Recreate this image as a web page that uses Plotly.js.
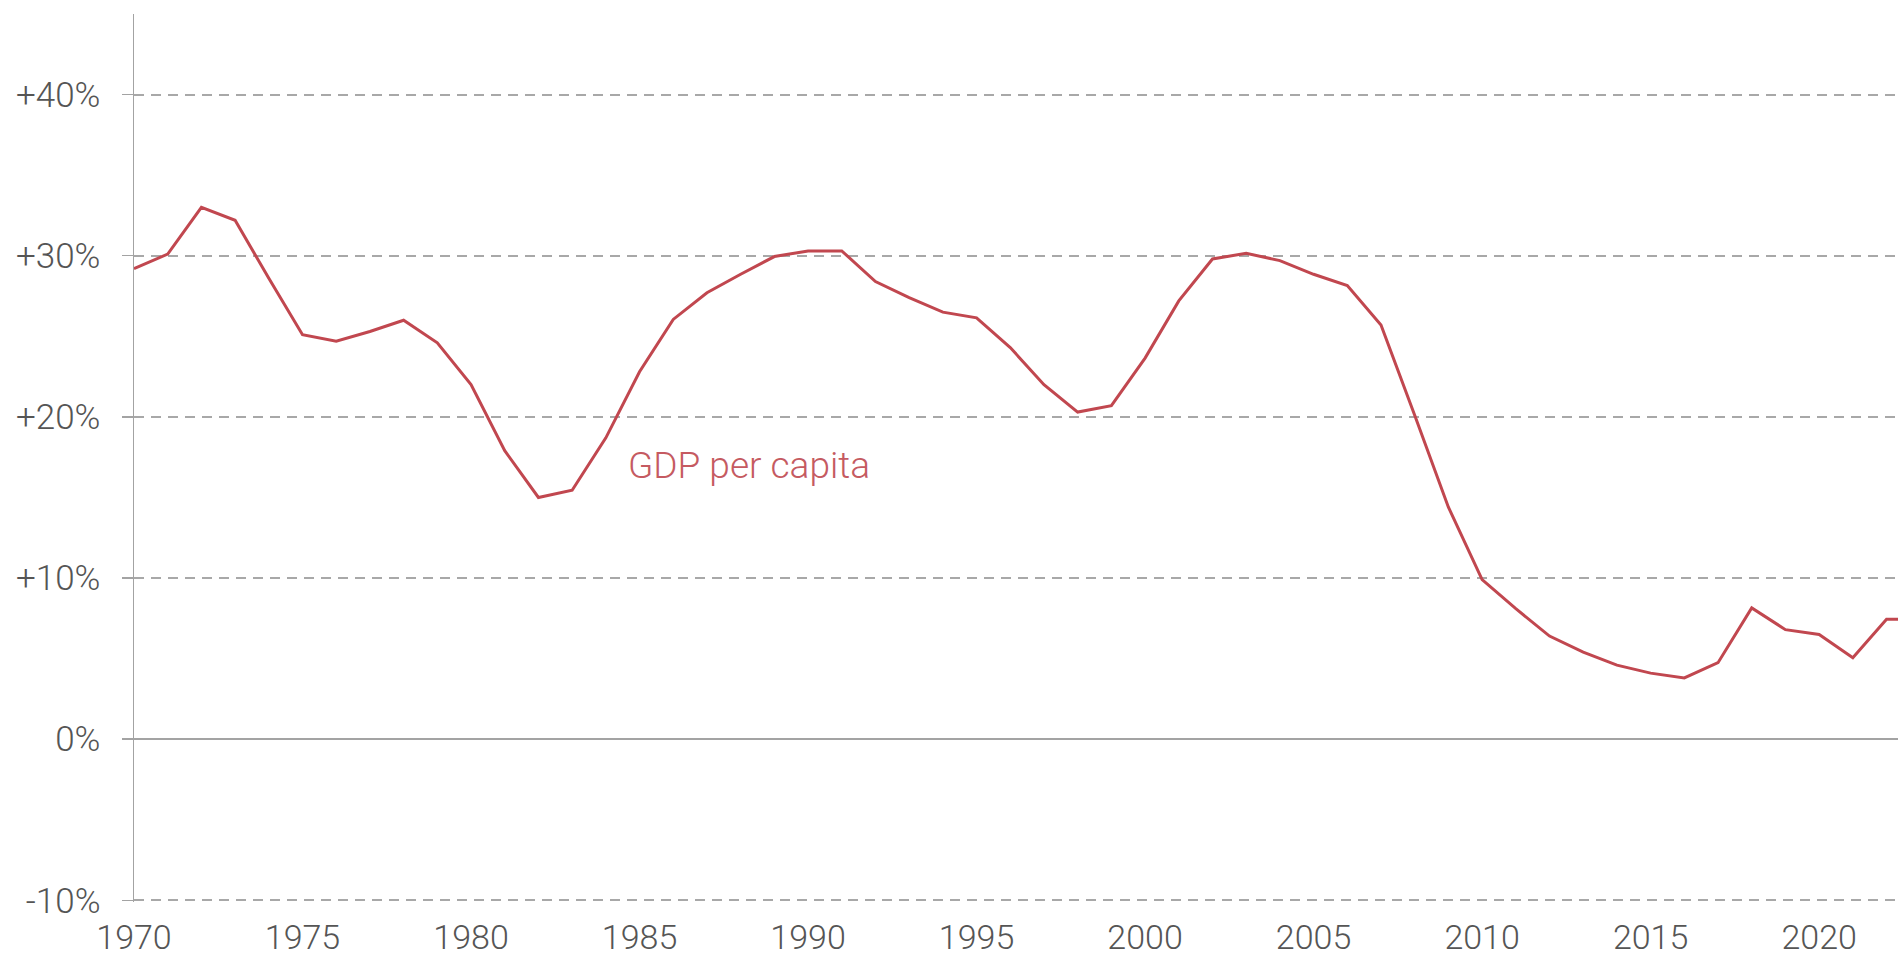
<!DOCTYPE html>
<html>
<head>
<meta charset="utf-8">
<script src="https://cdn.plot.ly/plotly-3.0.1.min.js"></script>
<style>
  html, body { margin: 0; padding: 0; background: #fff; }
  #chart { width: 1898px; height: 959px; }
</style>
</head>
<body>
<div id="chart"></div>
<script>
// ---- data ----
const years = [1970,1971,1972,1973,1974,1975,1976,1977,1978,1979,
               1980,1981,1982,1983,1984,1985,1986,1987,1988,1989,
               1990,1991,1992,1993,1994,1995,1996,1997,1998,1999,
               2000,2001,2002,2003,2004,2005,2006,2007,2008,2009,
               2010,2011,2012,2013,2014,2015,2016,2017,2018,2019,
               2020,2021,2022,2023];
const gdpPerCapita = [29.2,30.1,33.0,32.2,28.6,25.1,24.7,25.3,26.0,24.6,
                      22.0,17.9,15.0,15.45,18.7,22.8,26.05,27.7,28.85,29.95,
                      30.3,30.3,28.4,27.4,26.5,26.15,24.3,22.0,20.3,20.7,
                      23.65,27.2,29.8,30.15,29.7,28.85,28.15,25.7,20.1,14.4,
                      9.9,8.1,6.4,5.4,4.6,4.1,3.8,4.75,8.15,6.8,
                      6.5,5.05,7.45,7.45];
const seriesLabel = "GDP per capita";
const yTickVals = [-10, 0, 10, 20, 30, 40];
const yTickText = ["-10%", "0%", "+10%", "+20%", "+30%", "+40%"];
const xTickVals = [1970, 1975, 1980, 1985, 1990, 1995, 2000, 2005, 2010, 2015, 2020];
const xTickText = ["1970", "1975", "1980", "1985", "1990", "1995", "2000", "2005", "2010", "2015", "2020"];

// ---- style ----
const lineColor = "#c1474f";
const labelColor = "#c55a61";
const textColor = "#555555";
const axisColor = "#a3a3a3";
const gridColor = "#a8a8a8";
const fontFamily = "Roboto, Liberation Sans, Arial, sans-serif";
const yTickFont = { family: fontFamily, size: 35, weight: 300, color: textColor };
const xTickFont = { family: fontFamily, size: 34, weight: 300, color: textColor };

const yRange = [-10.1, 45];
const xRange = [1970, 2022.34];

const traces = [
  {
    x: years, y: gdpPerCapita, type: "scatter", mode: "lines",
    line: { color: lineColor, width: 3 },
    hoverinfo: "skip", showlegend: false, xaxis: "x", yaxis: "y"
  }
];

const layout = {
  width: 1898, height: 959,
  margin: { l: 134, r: 0, t: 14, b: 57.4 },
  paper_bgcolor: "#ffffff", plot_bgcolor: "#ffffff",
  showlegend: false,
  xaxis: {
    range: xRange, fixedrange: true,
    tickmode: "array", tickvals: xTickVals, ticktext: xTickText,
    showgrid: false, zeroline: false, showline: false, ticks: "",
    tickfont: xTickFont, ticklabelstandoff: 12
  },
  xaxis2: {
    range: xRange, overlaying: "x", anchor: "free",
    position: (0 - yRange[0]) / (yRange[1] - yRange[0]),
    side: "bottom",
    tickmode: "array", tickvals: xTickVals,
    showticklabels: false, ticks: "outside", ticklen: 12, tickwidth: 1.5, tickcolor: axisColor,
    showgrid: false, zeroline: false, showline: false
  },
  yaxis: {
    range: yRange, fixedrange: true,
    tickmode: "array", tickvals: yTickVals, ticktext: yTickText,
    showgrid: true, gridcolor: gridColor, gridwidth: 2, griddash: "10px,7px",
    zeroline: true, zerolinecolor: axisColor, zerolinewidth: 1.5,
    showline: true, linecolor: axisColor, linewidth: 1.5,
    ticks: "outside", ticklen: 11, tickwidth: 1.5, tickcolor: axisColor,
    tickfont: yTickFont, ticklabelstandoff: 14
  },
  annotations: [
    {
      x: 1984.6, y: 17.0, xref: "x", yref: "y",
      text: seriesLabel, showarrow: false,
      xanchor: "left", yanchor: "middle",
      font: { family: fontFamily, size: 37, weight: 300, color: labelColor }
    }
  ]
};

Plotly.newPlot("chart", traces, layout, { displayModeBar: false, staticPlot: true });
</script>
</body>
</html>
